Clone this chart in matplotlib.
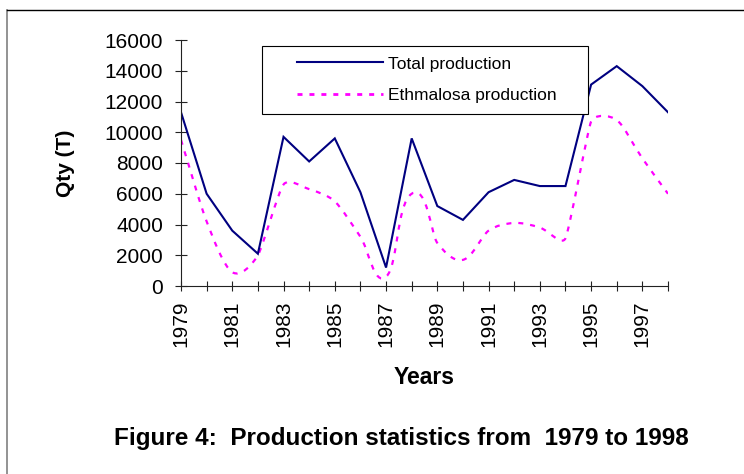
import matplotlib
matplotlib.use("Agg")
import matplotlib.pyplot as plt
import numpy as np
from matplotlib.path import Path
from matplotlib.patches import PathPatch
from matplotlib.lines import Line2D
from matplotlib.legend_handler import HandlerLine2D

plt.rcParams['font.family'] = ['Liberation Sans', 'DejaVu Sans']
plt.rcParams['lines.scale_dashes'] = False

# data (tonnes)
years = list(range(1979, 1999))
total_production = [11300, 6000, 3600, 2100, 9700, 8100, 9600, 6100, 1200, 9600,
                    5200, 4300, 6100, 6900, 6500, 6500, 13100, 14300, 13000, 11300]
ethmalosa_production = [9500, 4200, 900, 2000, 6600, 6300, 5500, 3200, 600, 6000,
                        2800, 1700, 3600, 4100, 3800, 3100, 10700, 10800, 8300, 6000]
year_labels = [str(y) if (y - 1979) % 2 == 0 else "" for y in years]

NAVY = "#000080"
MAGENTA = "#FF00FF"
DASH = (0, (3.6, 5.0))


def smooth_path(ax, xs, ys):
    """Excel-like smoothed line, built in screen space so steep jumps do not overshoot."""
    pts = ax.transData.transform(np.column_stack([xs, ys]).astype(float))
    n = len(pts)
    verts = [pts[0]]
    codes = [Path.MOVETO]

    def ctrl(i):
        # tangent direction and handle length at point i
        p_prev = pts[max(i - 1, 0)]
        p_next = pts[min(i + 1, n - 1)]
        t = p_next - p_prev
        norm = np.hypot(*t)
        if norm == 0:
            return np.zeros(2), 0.0
        d_prev = np.hypot(*(pts[i] - p_prev))
        d_next = np.hypot(*(p_next - pts[i]))
        if i == 0:
            d = d_next
        elif i == n - 1:
            d = d_prev
        else:
            d = min(d_prev, d_next)
        return t / norm, d / 3.0

    for i in range(n - 1):
        u1, l1 = ctrl(i)
        u2, l2 = ctrl(i + 1)
        c1 = pts[i] + u1 * l1
        c2 = pts[i + 1] - u2 * l2
        verts += [c1, c2, pts[i + 1]]
        codes += [Path.CURVE4] * 3
    verts = ax.transData.inverted().transform(np.array(verts))
    return Path(verts, codes)


fig = plt.figure(figsize=(7.44, 4.74), dpi=100)
ax = fig.add_axes([181 / 744, 1 - 286 / 474, 487 / 744, 246 / 474])

x = np.arange(len(years))
ax.set_xlim(0, len(years) - 1)
ax.set_ylim(0, 16000)

ax.plot(x, total_production, color=NAVY, lw=1.5, solid_joinstyle="miter")
ax.add_patch(PathPatch(smooth_path(ax, x, ethmalosa_production), facecolor="none",
                       edgecolor=MAGENTA, lw=1.6, linestyle=DASH))

ax.set_yticks(np.arange(0, 16001, 2000))
ax.set_xticks(x)
ax.set_xticklabels(year_labels, rotation=90)

for side in ["top", "right"]:
    ax.spines[side].set_visible(False)
for side in ["left", "bottom"]:
    ax.spines[side].set_linewidth(0.8)
    ax.spines[side].set_color("#222222")

ax.tick_params(axis="y", direction="inout", length=8, width=0.8, pad=9,
               labelsize=15, color="#222222")
ax.tick_params(axis="x", direction="inout", length=7, width=0.8, pad=7,
               labelsize=15, color="#222222")

ax.set_ylabel("Qty (T)", fontsize=15, fontweight="bold")
ax.yaxis.set_label_coords(-0.218, 0.5)
ax.set_xlabel("Years", fontsize=16.5, fontweight="bold")
ax.xaxis.set_label_coords(0.5, -0.325)

# legend
fs = 12.5
fs_px = fs * 100 / 72
handles = [Line2D([], [], color=NAVY, lw=1.5),
           Line2D([], [], color=MAGENTA, lw=2, linestyle=DASH)]
bp = 0.6
pad_px = bp * fs_px
hl = (121 - pad_px) / fs_px
xpad = (35 - pad_px) / fs_px
leg = ax.legend(handles, ["Total production", "Ethmalosa production"],
                loc="upper left",
                bbox_to_anchor=(262 / 744, 1 - 46 / 474, 326 / 744, 0),
                bbox_transform=fig.transFigure, mode="expand",
                borderaxespad=0, fontsize=fs, borderpad=bp, labelspacing=0.95,
                handlelength=hl, handletextpad=0.3, fancybox=False,
                framealpha=1, edgecolor="black",
                handler_map={Line2D: HandlerLine2D(xpad=xpad)})
leg.get_frame().set_linewidth(0.8)

fig.text(401 / 744, 1 - 438 / 474, "Figure 4:  Production statistics from  1979 to 1998",
         ha="center", va="center", fontsize=17.5, fontweight="bold")

# page border (document frame)
fig.add_artist(Line2D([7 / 744, 7 / 744], [0, 1 - 10 / 474], transform=fig.transFigure,
                      color="#808080", lw=1.2))
fig.add_artist(Line2D([7 / 744, 1], [1 - 10 / 474, 1 - 10 / 474], transform=fig.transFigure,
                      color="black", lw=1.0))

fig.savefig("out.png", dpi=100)
